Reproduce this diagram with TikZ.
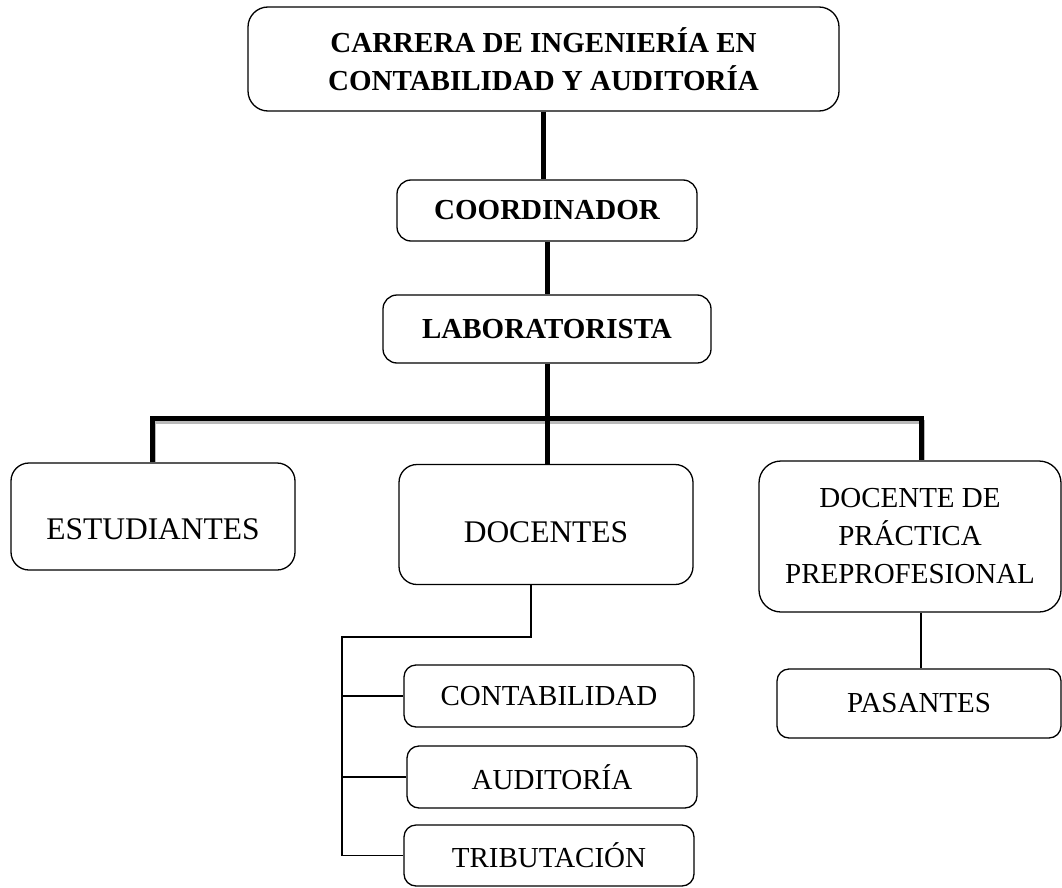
\documentclass[tikz,border=0pt]{standalone}
\usepackage{fontspec}
\setmainfont{Liberation Serif}
\usetikzlibrary{backgrounds}

\begin{document}
\begin{tikzpicture}[x=1pt,y=-1pt,line join=miter,
					main node/.style={draw,line width=1.3pt,rounded corners=18pt,align=center,
						inner sep=0pt,font=\fontsize{29}{38}\selectfont},
					boss node/.style={main node,rounded corners=14pt,font=\fontsize{29}{38}\selectfont\bfseries},
					sub node/.style={main node,rounded corners=12pt},
					low text/.style={font=\fontsize{31.5}{38}\selectfont,text height=#1},
					thick line/.style={line width=5pt},
					shadow line/.style={line width=4pt,gray!55},
					thin line/.style={line width=1.5pt}]
					\useasboundingbox (0,0) rectangle (1062,888);
					\coordinate (bl) at (152,418);
					\coordinate (br) at (921,418);
					\coordinate (bls) at (154,421.5);
					\coordinate (brs) at (923,421.5);
					\coordinate (d) at (531,637);
					\coordinate (k) at (342,637);

					\node[boss node,rounded corners=20pt,minimum width=591pt,minimum height=104pt] (1) at (543.5,59)
						{CARRERA DE INGENIERÍA EN\\CONTABILIDAD Y AUDITORÍA};
					\node[boss node,minimum width=300pt,minimum height=61pt] (2) at (547,210.5) {COORDINADOR};
					\node[boss node,minimum width=328pt,minimum height=68pt] (3) at (547,329) {LABORATORISTA};
					\node[main node,fill=white,low text=46pt,minimum width=284pt,minimum height=107pt] (4) at (153,516.5) {ESTUDIANTES};
					\node[main node,fill=white,low text=37pt,minimum width=294pt,minimum height=120pt] (5) at (546,524.5) {DOCENTES};
					\node[main node,fill=white,rounded corners=22pt,minimum width=302pt,minimum height=151pt] (6) at (910,536.5)
						{DOCENTE DE\\PRÁCTICA\\PREPROFESIONAL};
					\node[sub node,minimum width=290pt,minimum height=62pt] (7) at (549,696) {CONTABILIDAD};
					\node[sub node,minimum width=290pt,minimum height=62pt] (8) at (552,777) {AUDITORÍA};
					\node[sub node,minimum width=290pt,minimum height=61pt] (9) at (549,855.5) {TRIBUTACIÓN};
					\node[sub node,minimum width=284pt,minimum height=69pt] (10) at (919,703.5) {PASANTES};

					% bar with its grey shadow, behind the boxes
					\begin{scope}[on background layer]
						\draw[shadow line] (bls |- 4.north) -- (bls) -- (brs) -- (brs |- 6.north);
						\draw[thick line] (bl |- 4.north) -- (bl) -- (br) -- (br |- 6.north);
						\draw[thick line] (3.south) -- (3.south |- 5.north);
					\end{scope}

					\draw[thick line] (1.south) -- (1.south |- 2.north);
					\draw[thick line] (2.south) -- (3.north);
					\draw[thin line] (5.south -| d) -- (d) -- (k) -- (k |- 9.west) -- (9.west);
					\draw[thin line] (k |- 7.west) -- (7.west);
					\draw[thin line] (k |- 8.west) -- (8.west);
					\draw[thin line] (6.south -| br) -- (10.north -| br);
				\end{tikzpicture}
\end{document}
